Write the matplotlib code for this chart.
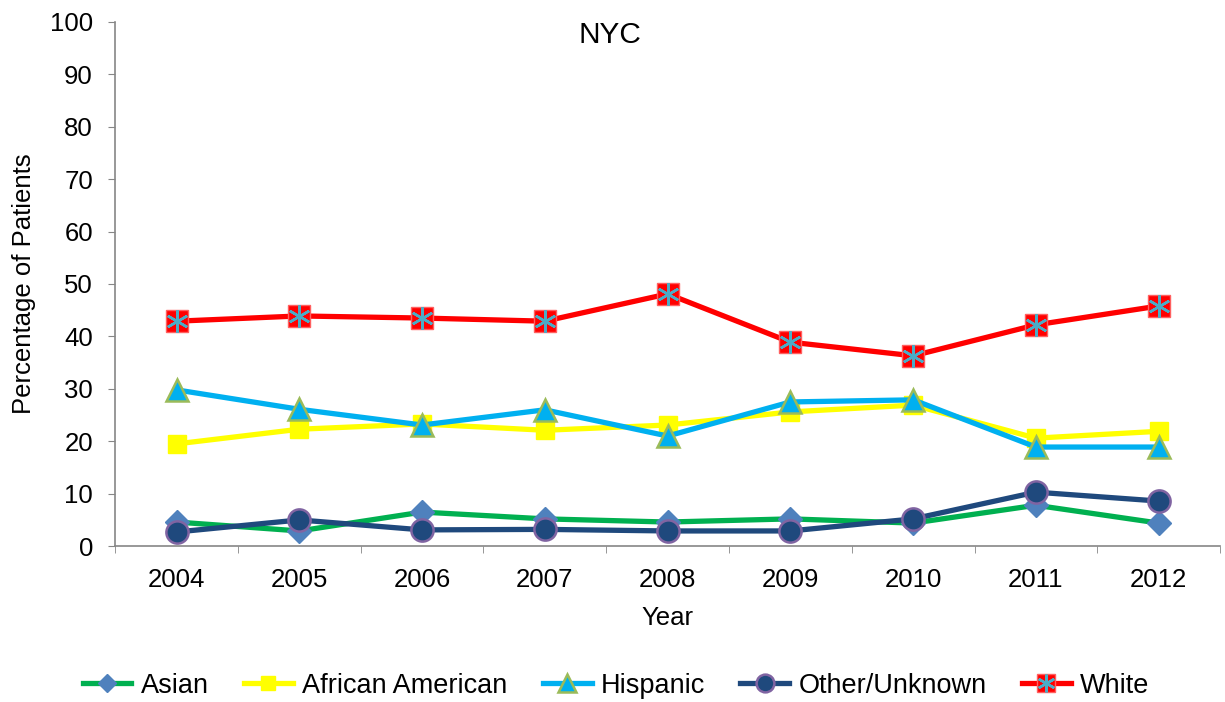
import matplotlib.pyplot as plt
from matplotlib.legend_handler import HandlerTuple

plt.rcParams['font.family'] = ['Liberation Sans', 'DejaVu Sans']

years = ['2004', '2005', '2006', '2007', '2008', '2009', '2010', '2011', '2012']
asian = [4.6, 2.9, 6.5, 5.2, 4.6, 5.2, 4.4, 7.8, 4.4]
african_american = [19.5, 22.3, 23.3, 22.1, 23.1, 25.6, 26.9, 20.6, 21.9]
hispanic = [29.8, 26.1, 23.1, 26.0, 21.0, 27.5, 27.9, 18.9, 18.9]
other = [2.7, 5.0, 3.1, 3.2, 2.9, 2.9, 5.2, 10.3, 8.6]
white = [42.9, 43.9, 43.5, 42.9, 48.1, 38.9, 36.3, 42.2, 45.8]

fig = plt.figure(figsize=(12.25, 7.02), dpi=100)
ax = fig.add_axes([0.094, 0.222, 0.902, 0.747])
x = list(range(len(years)))

lw = 3.8
h1, = ax.plot(x, asian, color='#00B050', lw=lw, marker='D', ms=12,
              mfc='#4F81BD', mec='#4F81BD', label='Asian')
h2, = ax.plot(x, african_american, color='#FFFF00', lw=lw, marker='s', ms=13,
              mfc='#FFFF00', mec='#FFFF00', label='African American')
h3, = ax.plot(x, hispanic, color='#00B0F0', lw=lw, marker='^', ms=16,
              mfc='#00B0F0', mec='#9BBB59', mew=1.8, label='Hispanic')
h4, = ax.plot(x, other, color='#1F497D', lw=lw, marker='o', ms=16,
              mfc='#1F497D', mec='#8064A2', mew=1.8, label='Other/Unknown')
h5, = ax.plot(x, white, color='#FF0000', lw=lw, marker='s', ms=16,
              mfc='#FF0000', mec='#FF6060', mew=1, label='White')
h5b, = ax.plot(x, white, ls='none', marker=(6, 2, 0), ms=16,
               mec='#4BACC6', mew=1.8)

ax.set_ylim(0, 100)
ax.set_yticks(range(0, 101, 10))
ax.set_xlim(-0.5, 8.5)
ax.set_xticks(x)
ax.set_xticklabels(years)
ax.set_xticks([i - 0.5 for i in range(len(years) + 1)], minor=True)
ax.tick_params(axis='x', which='major', length=0, labelsize=18.5, pad=16)
ax.tick_params(axis='x', which='minor', length=5, color='#868686', direction='out')
ax.tick_params(axis='y', length=5, color='#868686', labelsize=18.5, pad=11)

for s in ['top', 'right']:
    ax.spines[s].set_visible(False)
for s in ['left', 'bottom']:
    ax.spines[s].set_color('#868686')
    ax.spines[s].set_linewidth(1.2)

ax.set_xlabel('Year', fontsize=18.5, labelpad=10)
ax.set_ylabel('Percentage of Patients', fontsize=18.5, labelpad=10)
ax.text(0.448, 0.975, 'NYC', transform=ax.transAxes, ha='center', va='center', fontsize=21.5)

fig.legend([h1, h2, h3, h4, (h5, h5b)],
           ['Asian', 'African American', 'Hispanic', 'Other/Unknown', 'White'],
           handler_map={tuple: HandlerTuple(ndivide=1)},
           loc='center', bbox_to_anchor=(0.503, 0.023), ncol=5, frameon=False,
           fontsize=19.5, handlelength=1.8, columnspacing=1.3, handletextpad=0.35,
           markerscale=0.8)

plt.savefig('out.png', dpi=100)
